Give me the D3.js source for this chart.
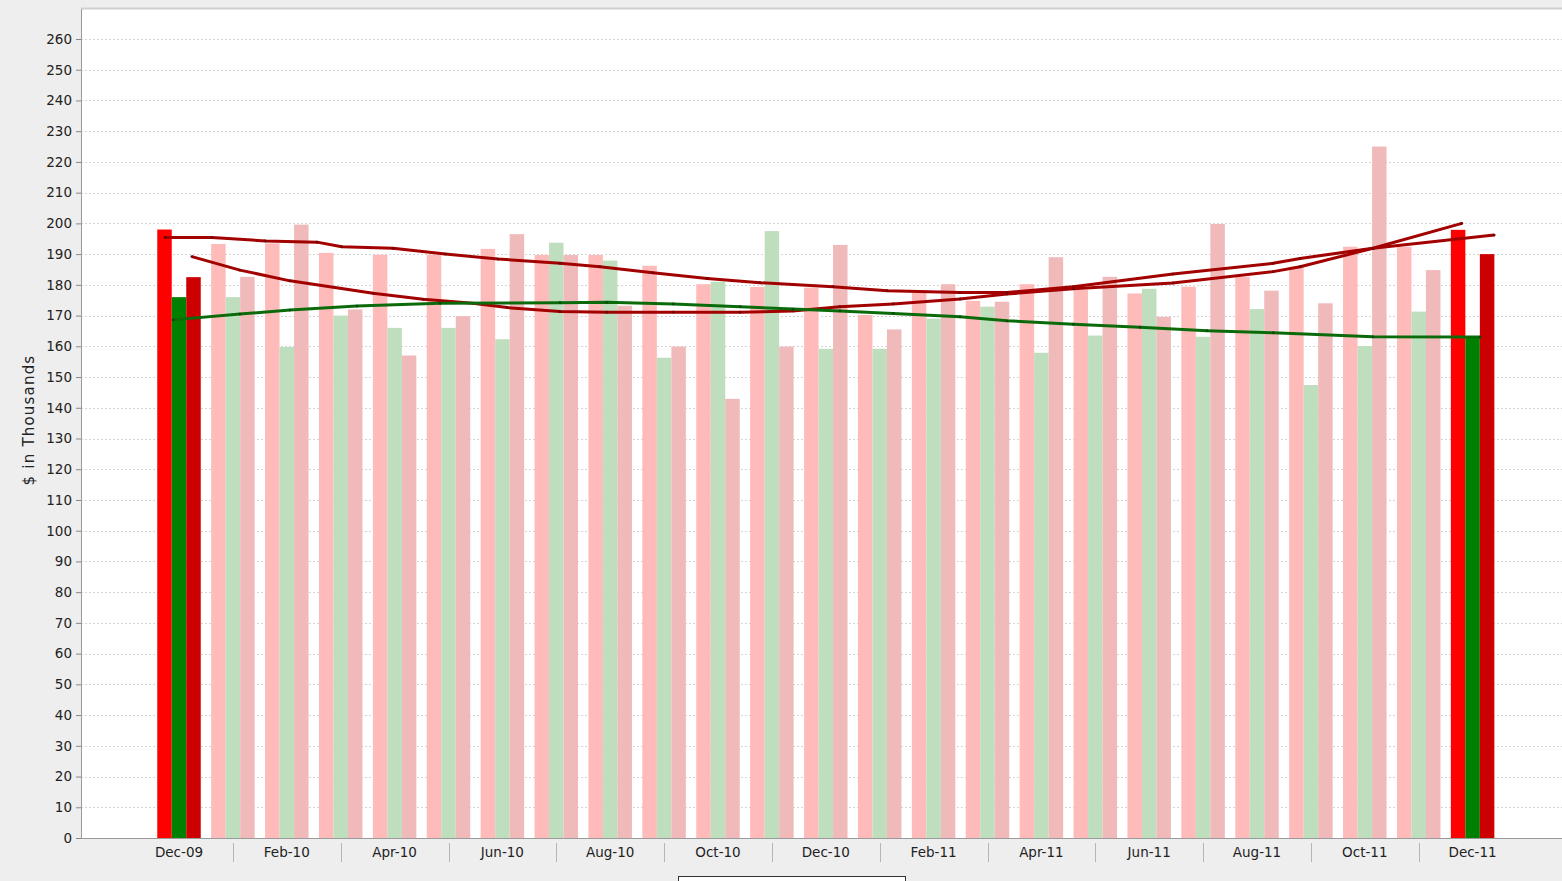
<!DOCTYPE html>
<html>
<head>
<meta charset="utf-8">
<script src="https://cdn.jsdelivr.net/npm/d3@7"></script>
<style>
  body { margin: 0; background: #eeeeee; overflow: hidden; }
  text { font-family: "DejaVu Sans", sans-serif; fill: #222; }
</style>
</head>
<body>
<div id="chart"></div>
<script>
// Months shown on the category axis
const months = ["Dec-09","Jan-10","Feb-10","Mar-10","Apr-10","May-10","Jun-10","Jul-10","Aug-10","Sep-10","Oct-10","Nov-10",
  "Dec-10","Jan-11","Feb-11","Mar-11","Apr-11","May-11","Jun-11","Jul-11","Aug-11","Sep-11","Oct-11","Nov-11","Dec-11"];

// Bar values ($ in thousands)
const redVals = [198, 193.3, 193.5, 190.4, 189.8, 189.8, 191.7, 189.7, 189.7, 186.2, 180.2, 179.3,
  179.1, 170.2, 177.5, 174.8, 180.2, 178.3, 177.2, 179.4, 182.6, 185.9, 192.4, 192.4, 197.9];
const greenVals = [176, 176, 159.8, 170, 166, 166, 162.3, 193.7, 187.9, 156.3, 181, 197.5,
  159.2, 159.2, 169, 172.9, 157.9, 163.5, 178.7, 163.1, 172.1, 147.4, 160.1, 171.3, 163.1];
const darkVals = [182.5, 182.6, 199.6, 172, 157, 169.8, 196.5, 189.7, 173.2, 159.9, 142.9, 159.9,
  193, 165.5, 180.2, 174.5, 189, 182.6, 169.6, 199.8, 178.1, 174, 225, 184.8, 190];

// Trend lines: [month position, value]
const trendA = [[-0.26,195.4],[0.61,195.4],[1.6,194.3],[2.56,193.9],[3.02,192.4],[3.97,191.9],[4.94,190],[5.92,188.4],
  [7.07,187],[7.81,185.9],[8.79,183.9],[9.8,182.1],[10.78,180.7],[12.13,179.4],[13.14,178.1],[14.49,177.5],[15.36,177.5],
  [16.59,179.4],[18.44,183.5],[20.3,187],[20.8,188.6],[22.15,191.9],[24.4,196.2]];
const trendB = [[0.24,189.2],[1.13,184.8],[2.06,181.3],[3.6,177.3],[4.53,175.3],[5.45,174],[6.09,172.6],[7.07,171.3],
  [7.94,171.1],[9.17,171.1],[10.41,171.1],[11.39,171.5],[12.26,172.9],[13.25,173.8],[14.49,175.4],[15.36,177],
  [16.59,178.7],[18.44,180.6],[20.3,184.3],[20.8,185.9],[22.15,191.9],[23.8,200]];
const trendG = [[-0.11,168.6],[1.13,170.5],[2.06,171.8],[3.3,173.1],[4.84,174],[7.07,174.2],[7.94,174.3],[9.17,173.8],
  [10.41,172.9],[11.39,172.1],[12.26,171.5],[13.25,170.7],[14.49,169.6],[15.36,168.3],[16.59,167.2],[17.83,166.2],
  [19.07,165.1],[20.3,164.4],[22.15,163.1],[24.14,163]];

const yTicks = d3.range(0, 261, 10);

const W = 1562, H = 881;
const plot = { left: 81, top: 9, right: 1562, bottom: 838 };

const svg = d3.select("#chart").append("svg")
  .attr("width", W)
  .attr("height", H);

// plot background
svg.append("rect")
  .attr("x", plot.left).attr("y", plot.top)
  .attr("width", plot.right - plot.left).attr("height", plot.bottom - plot.top)
  .attr("fill", "#ffffff");
svg.append("line")
  .attr("x1", plot.left).attr("x2", plot.right)
  .attr("y1", plot.top - 0.5).attr("y2", plot.top - 0.5)
  .attr("stroke", "#cfcfcf").attr("stroke-width", 2);

// scales
const y = d3.scaleLinear().domain([0, 260]).range([plot.bottom, 39]);

const step = 53.9;
const x0 = d3.scaleBand()
  .domain(months)
  .range([179 - step / 2, 179 - step / 2 + step * months.length])
  .paddingInner(0.193)
  .paddingOuter(0.0965);
const x1 = d3.scaleBand()
  .domain(["red", "green", "dark"])
  .range([0, x0.bandwidth()]);
// month position (can be fractional) -> pixel centre
const xPos = d3.scaleLinear().domain([0, 1]).range([x0(months[0]) + x0.bandwidth() / 2, x0(months[1]) + x0.bandwidth() / 2]);

// gridlines
svg.append("g")
  .selectAll("line")
  .data(yTicks.filter(d => d > 0))
  .enter().append("line")
  .attr("x1", plot.left).attr("x2", plot.right)
  .attr("y1", d => Math.round(y(d)) + 0.5).attr("y2", d => Math.round(y(d)) + 0.5)
  .attr("stroke", "#d4d4d4")
  .attr("stroke-dasharray", "2,2");

// bars
const fullColor = { red: "#ff0000", green: "#008000", dark: "#cc0000" };
const fadeColor = { red: "#ffbaba", green: "#bedebe", dark: "#f1baba" };
const series = { red: redVals, green: greenVals, dark: darkVals };
const barData = [];
months.forEach((m, i) => {
  ["red", "green", "dark"].forEach(k => barData.push({ month: m, i: i, key: k, value: series[k][i] }));
});
const isFull = d => d.i === 0 || d.i === months.length - 1;

svg.append("g")
  .selectAll("rect")
  .data(barData)
  .enter().append("rect")
  .attr("x", d => x0(d.month) + x1(d.key))
  .attr("y", d => y(d.value))
  .attr("width", x1.bandwidth())
  .attr("height", d => y(0) - y(d.value))
  .attr("fill", d => isFull(d) ? fullColor[d.key] : fadeColor[d.key]);

// trend lines
const line = d3.line()
  .x(d => xPos(d[0]))
  .y(d => y(d[1]));

[[trendA, "#a30000"], [trendB, "#a30000"], [trendG, "#0b6b0b"]].forEach(([data, color]) => {
  svg.append("path")
    .datum(data)
    .attr("d", line)
    .attr("fill", "none")
    .attr("stroke", color)
    .attr("stroke-width", 3)
    .attr("stroke-linejoin", "round");
  svg.append("g")
    .selectAll("circle")
    .data(data)
    .enter().append("circle")
    .attr("cx", d => xPos(d[0]))
    .attr("cy", d => y(d[1]))
    .attr("r", 1.4)
    .attr("fill", d3.color(color).darker(1));
});

// y axis
const yAxis = svg.append("g")
  .attr("transform", `translate(${plot.left},0)`)
  .call(d3.axisLeft(y).tickValues(yTicks).tickSize(5).tickPadding(4));
yAxis.select(".domain").attr("stroke", "#999").attr("d", `M0.5,${plot.top}V${plot.bottom + 0.5}`);
yAxis.selectAll(".tick line").attr("stroke", "#888");
yAxis.selectAll(".tick text").attr("font-size", "13.5px").attr("font-family", "DejaVu Sans, sans-serif").attr("fill", "#222");

// x axis line
svg.append("line")
  .attr("x1", plot.left).attr("x2", plot.right)
  .attr("y1", plot.bottom + 0.5).attr("y2", plot.bottom + 0.5)
  .attr("stroke", "#999");

// x axis labels every second month, with separators in between
const labelMonths = months.filter((m, i) => i % 2 === 0);
svg.append("g")
  .selectAll("text")
  .data(labelMonths)
  .enter().append("text")
  .attr("x", d => x0(d) + x0.bandwidth() / 2)
  .attr("y", 857)
  .attr("text-anchor", "middle")
  .attr("font-size", "13.5px")
  .text(d => d);

svg.append("g")
  .selectAll("line")
  .data(months.filter((m, i) => i % 2 === 1))
  .enter().append("line")
  .attr("x1", d => Math.round(x0(d) + x0.bandwidth() / 2) + 0.5)
  .attr("x2", d => Math.round(x0(d) + x0.bandwidth() / 2) + 0.5)
  .attr("y1", 843).attr("y2", 862)
  .attr("stroke", "#b5b5b5");

// y axis title
svg.append("text")
  .attr("transform", "rotate(-90)")
  .attr("x", -420)
  .attr("y", 34)
  .attr("text-anchor", "middle")
  .attr("font-size", "15px")
  .attr("letter-spacing", "1.2px")
  .text("$ in Thousands");

// legend box (cut off at the bottom)
svg.append("rect")
  .attr("x", 678.5).attr("y", 876.5)
  .attr("width", 227).attr("height", 30)
  .attr("fill", "#ffffff")
  .attr("stroke", "#333");
</script>
</body>
</html>
